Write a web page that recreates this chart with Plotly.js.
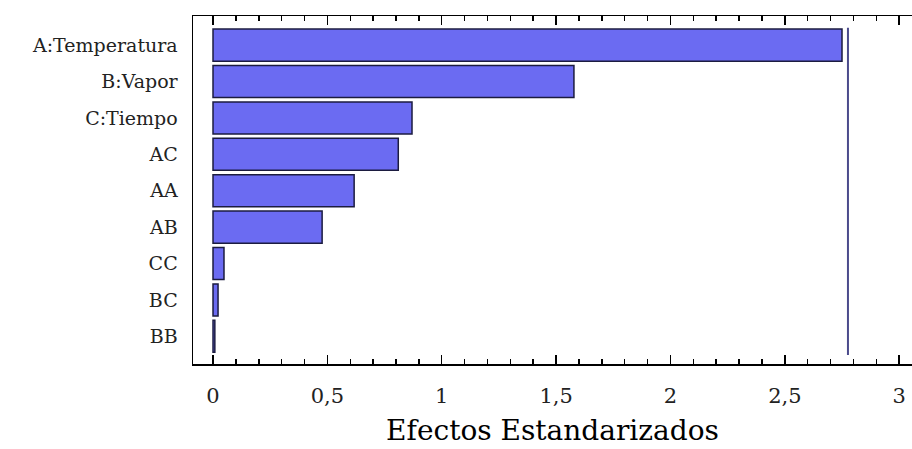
<!DOCTYPE html>
<html>
<head>
<meta charset="utf-8">
<script src="https://cdn.plot.ly/plotly-3.0.1.min.js"></script>
<style>
  html, body { margin: 0; padding: 0; background: #ffffff; }
  #chart { width: 912px; height: 449px; }
</style>
</head>
<body>
<div id="chart"></div>
<script>
// Standardized effects (Pareto chart), largest first
const factors = ['A:Temperatura', 'B:Vapor', 'C:Tiempo', 'AC', 'AA', 'AB', 'CC', 'BC', 'BB'];
const effects = [2.75, 1.578, 0.87, 0.81, 0.617, 0.477, 0.048, 0.022, 0.008];
// Critical value of the standardized effect (reference line)
const criticalValue = 2.776;
const xTickVals = [0, 0.5, 1, 1.5, 2, 2.5, 3];

const serif = 'DejaVu Serif, Liberation Serif, serif';

const bars = {
  type: 'bar',
  orientation: 'h',
  y: factors,
  x: effects,
  width: 0.88,
  marker: { color: '#6b6bf2', line: { color: '#1c1c40', width: 1.5 } },
  hoverinfo: 'x+y'
};

const layout = {
  width: 912,
  height: 449,
  margin: { l: 193, r: 0, t: 16, b: 85 },
  paper_bgcolor: '#ffffff',
  plot_bgcolor: '#ffffff',
  separators: ',.',
  showlegend: false,
  font: { family: serif, color: '#000000' },
  xaxis: {
    range: [-0.0875, 3.056],
    tickvals: xTickVals,
    ticks: 'inside',
    ticklen: 9,
    tickwidth: 1.5,
    tickcolor: '#000000',
    minor: { dtick: 0.1, ticks: 'inside', ticklen: 5, tickwidth: 1.5, tickcolor: '#000000' },
    showline: true,
    linecolor: '#000000',
    linewidth: 1.5,
    mirror: 'allticks',
    showgrid: false,
    zeroline: false,
    tickfont: { family: serif, size: 21, color: '#222222' },
    ticklabelstandoff: 12,
    title: { text: 'Efectos Estandarizados', font: { family: serif, size: 28, color: '#000000' }, standoff: 13 },
    fixedrange: true
  },
  yaxis: {
    type: 'category',
    categoryorder: 'array',
    categoryarray: factors,
    range: [8.76, -0.8],
    ticks: '',
    showline: true,
    linecolor: '#000000',
    linewidth: 1.5,
    mirror: false,
    showgrid: false,
    zeroline: false,
    tickfont: { family: serif, size: 19, color: '#222222' },
    ticklabelstandoff: 10,
    fixedrange: true
  },
  shapes: [{
    type: 'line',
    xref: 'x',
    yref: 'paper',
    x0: criticalValue,
    x1: criticalValue,
    y0: 0.026,
    y1: 0.966,
    line: { color: '#4b4b8c', width: 2 }
  }]
};

Plotly.newPlot('chart', [bars], layout, { displayModeBar: false, staticPlot: true });
</script>
</body>
</html>
